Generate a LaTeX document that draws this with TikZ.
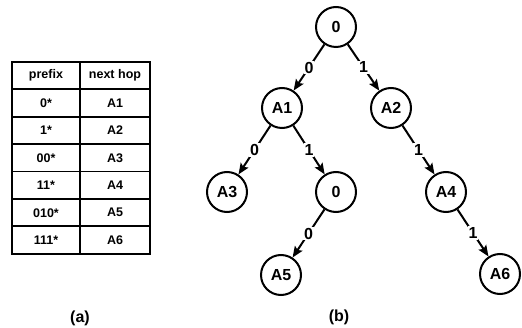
\documentclass[tikz,border=0pt]{standalone}
\usepackage{fontspec}
\setmainfont{Liberation Sans}
\usetikzlibrary{arrows.meta,positioning}
\tikzset{
  tnode/.style={draw, circle, line width=2pt, minimum size=40pt, inner sep=0pt, font=\bfseries\fontsize{16}{18}\selectfont},
  tcellL/.style={draw, line width=1.8pt, minimum width=68pt, minimum height=27.4pt, inner sep=0pt, font=\bfseries\fontsize{12.5}{14}\selectfont},
  tcellR/.style={draw, line width=1.8pt, minimum width=70pt, minimum height=27.4pt, inner sep=0pt, font=\bfseries\fontsize{12.5}{14}\selectfont},
  tedge/.style={-{Stealth[length=11pt,width=9pt,inset=2pt]}, line width=2pt},
  tlabel/.style={fill=white, inner sep=1pt, font=\bfseries\fontsize{16}{18}\selectfont},
  tcap/.style={font=\bfseries\fontsize{16}{18}\selectfont}
}

\begin{document}
\begin{tikzpicture}[x=1pt,y=-1pt]
\useasboundingbox (0,0) rectangle (522,328);

% routing table
\node[tcellL] (h1) at (46,75.7) {prefix};
\node[tcellR] (h2) at (115,75.7) {next hop};
\node[tcellL] (p1) at (46,103.1) {0*};
\node[tcellR] (n1) at (115,103.1) {A1};
\node[tcellL] (p2) at (46,130.5) {1*};
\node[tcellR] (n2) at (115,130.5) {A2};
\node[tcellL] (p3) at (46,157.9) {00*};
\node[tcellR] (n3) at (115,157.9) {A3};
\node[tcellL] (p4) at (46,185.3) {11*};
\node[tcellR] (n4) at (115,185.3) {A4};
\node[tcellL] (p5) at (46,212.7) {010*};
\node[tcellR] (n5) at (115,212.7) {A5};
\node[tcellL] (p6) at (46,240.1) {111*};
\node[tcellR] (n6) at (115,240.1) {A6};

% trie
\node[tnode] (root) at (336,27) {0};
\node[tnode] (a1) at (282,108) {A1};
\node[tnode] (a2) at (391,108) {A2};
\node[tnode] (a3) at (227,192) {A3};
\node[tnode] (mid) at (336,192) {0};
\node[tnode] (a4) at (446,192) {A4};
\node[tnode] (a5) at (281,275) {A5};
\node[tnode] (a6) at (500,274) {A6};

\draw[tedge] (root) -- node[tlabel] {0} (a1);
\draw[tedge] (root) -- node[tlabel] {1} (a2);
\draw[tedge] (a1) -- node[tlabel] {0} (a3);
\draw[tedge] (a1) -- node[tlabel] {1} (mid);
\draw[tedge] (a2) -- node[tlabel] {1} (a4);
\draw[tedge] (mid) -- node[tlabel] {0} (a5);
\draw[tedge] (a4) -- node[tlabel] {1} (a6);

% captions
\node[tcap] (capa) at (80,318) {(a)};
\node[tcap] (capb) at (339,317) {(b)};
\end{tikzpicture}
\end{document}
